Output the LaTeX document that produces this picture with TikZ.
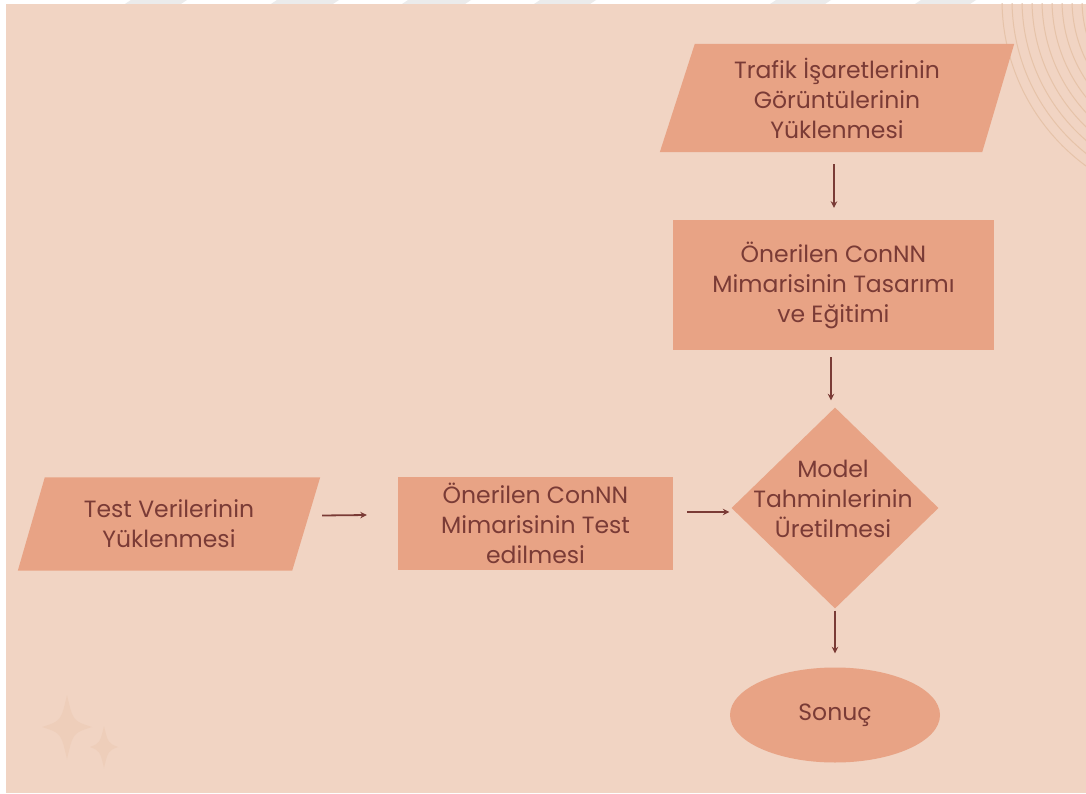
\documentclass[tikz,border=0pt]{standalone}
\usepackage{fontspec}
\setmainfont{Poppins}
\usetikzlibrary{shapes.geometric,arrows.meta,calc,backgrounds}
\definecolor{canvas}{HTML}{F1D4C3}
\definecolor{boxfill}{HTML}{E8A385}
\definecolor{ink}{HTML}{7A3B36}
\definecolor{ring}{HTML}{E6C3A9}
\definecolor{spark}{HTML}{EECEBA}
\definecolor{band}{HTML}{EBEBEB}

\begin{document}
\begin{tikzpicture}[x=1pt,y=-1pt,
  txt/.style={text=ink, font=\fontsize{23.5}{30}\selectfont, align=center, inner sep=0pt},
  arr/.style={draw=ink, line width=1.8pt, -{Stealth[length=6.5pt,width=6.5pt]}}]
\useasboundingbox (0,0) rectangle (1086,794);

% process steps
\node[txt, minimum width=354, minimum height=108] (load) at (837,98)
  {Trafik İşaretlerinin\\Görüntülerinin\\Yüklenmesi};
\node[txt, fill=boxfill, minimum width=321, minimum height=130] (design) at (833.5,285)
  {Önerilen ConNN\\Mimarisinin Tasarımı\\ve Eğitimi};
\node[diamond, fill=boxfill, minimum width=207, minimum height=201, inner sep=0pt] (pred) at (835,508) {};
\node[txt] (predtext) at (833,499) {Model\\Tahminlerinin\\Üretilmesi};
\node[ellipse, fill=boxfill, minimum width=210, minimum height=95, txt] (result) at (835,715) {Sonuç};
\node[txt, minimum width=302, minimum height=93] (testload) at (169,524)
  {Test Verilerinin\\Yüklenmesi};
\node[txt, fill=boxfill, minimum width=275, minimum height=93] (testrun) at (535.5,523.5)
  {Önerilen ConNN\\Mimarisinin Test\\edilmesi};

% connectors
\draw[arr] ([xshift=-3pt,yshift=-12pt]load.south) -- ([xshift=0.5pt,yshift=12pt]design.north);
\draw[arr] ([xshift=-2.5pt,yshift=-7pt]design.south) -- ([xshift=-4pt,yshift=7pt]pred.north);
\draw[arr] ([yshift=-2pt]pred.south) -- ([yshift=14pt]result.north);
\draw[arr] ([xshift=2pt,yshift=8.5pt]testload.east) -- ([xshift=-31pt,yshift=8.5pt]testrun.west);
\draw[arr] ([xshift=14pt,yshift=11.5pt]testrun.east) -- ([xshift=-2pt,yshift=-4pt]pred.west);

% backdrop, decorations and slanted input shapes
\begin{scope}[on background layer]
  \fill[white] (0,0) rectangle (1086,794);
  \foreach \a/\b in {131/187,277/339,408/471,540/596,776/831,921/976}
    \fill[band] (\a,0) -- (\b,0) -- (\b-6,4) -- (\a-6,4) -- cycle;
  \fill[canvas] (6,4) rectangle (1086,793);
  \begin{scope}
    \clip (6,4) rectangle (1086,793);
    \foreach \r in {126,136,...,206}
      \draw[ring, line width=1pt] (1208,0) circle[radius=\r];
  \end{scope}
  \fill[spark] (67,695) .. controls (73,721) .. (92,727) .. controls (73,733) .. (67,759)
    .. controls (61,733) .. (42,727) .. controls (61,721) .. cycle;
  \fill[spark] (104,726) .. controls (108,743) .. (118,747) .. controls (108,751) .. (104,768)
    .. controls (100,751) .. (90,747) .. controls (100,743) .. cycle;
  \fill[boxfill] ($(load.north west)+(35,0)$) -- (load.north east)
    -- ($(load.south east)+(-32,0)$) -- (load.south west) -- cycle;
  \fill[boxfill] ($(testload.north west)+(27,0)$) -- (testload.north east)
    -- ($(testload.south east)+(-28,0)$) -- (testload.south west) -- cycle;
\end{scope}
\end{tikzpicture}
\end{document}
